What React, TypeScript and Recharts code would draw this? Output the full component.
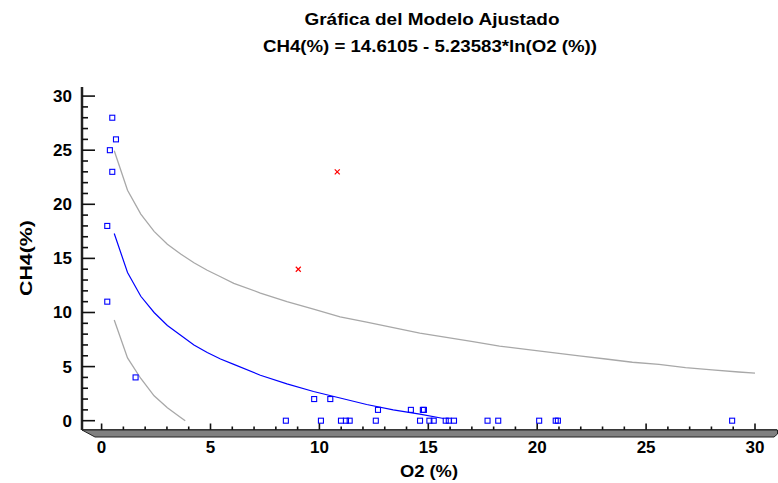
import React from 'react';
import { ComposedChart, XAxis, YAxis, Line, Scatter } from 'recharts';

// observed points (O2 %, CH4 %)
const obsO2 = [0.49, 0.66, 0.38, 0.49, 0.26, 0.26, 1.56, 8.46, 9.76, 10.5, 10.07, 10.99, 11.22, 11.39, 12.59, 12.69, 14.2, 14.75, 14.8, 14.62, 15.05, 15.25, 15.8, 15.94, 16.18, 17.72, 18.21, 20.09, 20.85, 20.95, 28.95];
const obsCH4 = [28, 26, 25, 23, 18, 11, 4, 0, 2, 2, 0, 0, 0, 0, 0, 1, 1, 1, 1, 0, 0, 0, 0, 0, 0, 0, 0, 0, 0, 0, 0];

// excluded points (red x)
const outO2 = [10.82, 9.03];
const outCH4 = [23, 14];

// fitted model line
const fitO2 = [0.58, 1.19, 1.8, 2.41, 3.02, 3.63, 4.24, 4.85, 5.46, 6.07, 7.29, 8.51, 9.73, 10.95, 12.17, 13.39, 14.61, 15.7];
const fitCH4 = [17.3, 13.7, 11.5, 10.0, 8.8, 7.9, 7.0, 6.3, 5.7, 5.2, 4.2, 3.4, 2.7, 2.1, 1.5, 1.0, 0.6, 0.2];

// upper prediction limit
const upO2 = [0.58, 1.19, 1.8, 2.41, 3.02, 3.63, 4.24, 4.85, 5.46, 6.07, 7.29, 8.51, 9.73, 10.95, 12.17, 13.39, 14.61, 15.83, 17.05, 18.27, 19.49, 20.71, 21.93, 23.15, 24.37, 25.59, 26.81, 28.03, 29.25, 30];
const upCH4 = [24.95, 21.3, 19.1, 17.5, 16.3, 15.4, 14.6, 13.9, 13.3, 12.7, 11.8, 11.0, 10.3, 9.6, 9.1, 8.6, 8.1, 7.7, 7.3, 6.9, 6.6, 6.3, 6.0, 5.7, 5.4, 5.2, 4.9, 4.7, 4.5, 4.4];

// lower prediction limit
const loO2 = [0.58, 1.19, 1.8, 2.41, 3.02, 3.63, 3.84];
const loCH4 = [9.3, 5.8, 3.9, 2.3, 1.2, 0.3, 0];

const xTicks = Array.from({ length: 31 }, (_, i) => i);
const yTicks = Array.from({ length: 31 }, (_, i) => i);

const zip = (xs: number[], ys: number[]) => xs.map((x, i) => ({ x, y: ys[i] }));

const font = '"Liberation Sans", Arial, sans-serif';

const YTick = (props: any) => {
  const { x, y, payload } = props;
  const major = payload.value % 5 === 0;
  return (
    <g>
      <line x1={x} y1={y} x2={x + (major ? 13 : 6)} y2={y} stroke="#111" strokeWidth={1.6} />
      {major && (
        <text x={x - 10} y={y + 6} textAnchor="end" fontFamily={font} fontWeight="bold" fontSize={17} fill="#000">
          {payload.value}
        </text>
      )}
    </g>
  );
};

const XTick = (props: any) => {
  const { x, y, payload } = props;
  const major = payload.value % 5 === 0;
  return (
    <g>
      <line x1={x} y1={y} x2={x} y2={y - (major ? 6.5 : 3.5)} stroke="#111" strokeWidth={1.6} />
      {major && (
        <text x={x} y={y + 23} textAnchor="middle" fontFamily={font} fontWeight="bold" fontSize={17} fill="#000">
          {payload.value}
        </text>
      )}
    </g>
  );
};

const Square = (props: any) => {
  const { cx, cy } = props;
  if (cx == null || cy == null) return null;
  return <rect x={cx - 2.5} y={cy - 2.5} width={5} height={5} fill="none" stroke="#0000ff" strokeWidth={1.1} />;
};

const Cross = (props: any) => {
  const { cx, cy } = props;
  if (cx == null || cy == null) return null;
  return (
    <g stroke="#ff0000" strokeWidth={1.2}>
      <line x1={cx - 2.5} y1={cy - 2.5} x2={cx + 2.5} y2={cy + 2.5} />
      <line x1={cx - 2.5} y1={cy + 2.5} x2={cx + 2.5} y2={cy - 2.5} />
    </g>
  );
};

export default function App() {
  return (
    <div style={{ position: 'absolute', left: 0, top: 0, width: 778, height: 483, background: '#fff' }}>
      <ComposedChart width={778} height={483} margin={{ top: 87, right: 1, bottom: 23, left: 22 }}>
        <XAxis
          type="number"
          dataKey="x"
          domain={[-0.9, 31.01]}
          ticks={xTicks}
          allowDataOverflow
          height={30}
          tickSize={0}
          tickMargin={0}
          tick={<XTick />}
          axisLine={{ stroke: '#111', strokeWidth: 1.5 }}
          interval={0}
        />
        <YAxis
          type="number"
          dataKey="y"
          domain={[-0.86, 30.84]}
          ticks={yTicks}
          allowDataOverflow
          width={60}
          tickSize={0}
          tickMargin={0}
          tick={<YTick />}
          axisLine={{ stroke: '#222', strokeWidth: 2.5 }}
          interval={0}
        />
        <Line data={zip(upO2, upCH4)} dataKey="y" type="linear" stroke="#a8a8a8" strokeWidth={1.3} dot={false} isAnimationActive={false} />
        <Line data={zip(loO2, loCH4)} dataKey="y" type="linear" stroke="#a8a8a8" strokeWidth={1.3} dot={false} isAnimationActive={false} />
        <Line data={zip(fitO2, fitCH4)} dataKey="y" type="linear" stroke="#0000ff" strokeWidth={1.2} dot={false} isAnimationActive={false} />
        <Scatter data={zip(obsO2, obsCH4)} dataKey="y" shape={<Square />} isAnimationActive={false} />
        <Scatter data={zip(outO2, outCH4)} dataKey="y" shape={<Cross />} isAnimationActive={false} />
      </ComposedChart>
      <svg width={778} height={483} style={{ position: 'absolute', left: 0, top: 0, pointerEvents: 'none' }}>
        <polygon points="82,430 95,437 774,437 777.5,434 777.5,430" fill="#808080" stroke="#222" strokeWidth={1} />
        <text x={432} y={25} textAnchor="middle" fontFamily={font} fontWeight="bold" fontSize={16} textLength={255} lengthAdjust="spacingAndGlyphs">
          Gráfica del Modelo Ajustado
        </text>
        <text x={430} y={52} textAnchor="middle" fontFamily={font} fontWeight="bold" fontSize={16} textLength={334} lengthAdjust="spacingAndGlyphs">
          CH4(%) = 14.6105 - 5.23583*ln(O2 (%))
        </text>
        <text x={429} y={477} textAnchor="middle" fontFamily={font} fontWeight="bold" fontSize={17} textLength={58} lengthAdjust="spacingAndGlyphs">
          O2 (%)
        </text>
        <text x={0} y={0} transform="translate(32,258) rotate(-90)" textAnchor="middle" fontFamily={font} fontWeight="bold" fontSize={17} textLength={76} lengthAdjust="spacingAndGlyphs">
          CH4(%)
        </text>
      </svg>
    </div>
  );
}
